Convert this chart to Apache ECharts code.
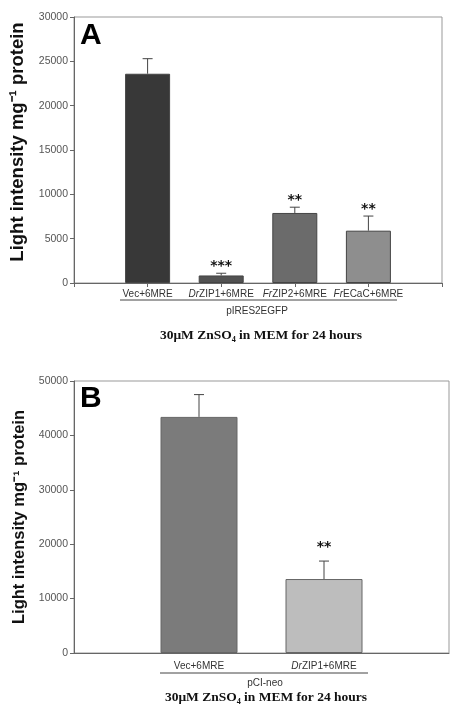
<!DOCTYPE html>
<html><head><meta charset="utf-8">
<script src="https://cdn.jsdelivr.net/npm/echarts@6/dist/echarts.min.js"></script>
<style>html,body{margin:0;padding:0;background:#fff}#c{width:452px;height:705px}</style>
</head><body><div id="c"></div>
<script>
// Panel A data
const catsA = ['Vec+6MRE', 'DrZIP1+6MRE', 'FrZIP2+6MRE', 'FrECaC+6MRE'];
const valsA = [23600, 850, 7900, 5900];
const errA = [1700, 250, 650, 1650];
const sigA = ['', '***', '**', '**'];
const colorsA = ['#383838', '#525252', '#6b6b6b', '#8e8e8e'];
const ticksA = [0, 5000, 10000, 15000, 20000, 25000, 30000];
// Panel B data
const catsB = ['Vec+6MRE', 'DrZIP1+6MRE'];
const valsB = [43400, 13600];
const errB = [4100, 3300];
const sigB = ['', '**'];
const colorsB = ['#7b7b7b', '#bdbdbd'];
const ticksB = [0, 10000, 20000, 30000, 40000, 50000];

const pad = a => [''].concat(a, ['']);
const padV = a => [null].concat(a, [null]);

function fmtCat(v) {
  if (v.startsWith('Dr')) return '{i|Dr}' + v.slice(2);
  if (v.startsWith('Fr')) return '{i|Fr}' + v.slice(2);
  return v;
}
const rich = { i: { fontStyle: 'italic', fontFamily: 'Liberation Sans', fontSize: 10, color: '#333' } };

function errSeries(xi, yi, vals, errs, sigs, starGap) {
  const data = vals.map((v, k) => [k + 1, v, v + errs[k], sigs[k]]);
  return {
    type: 'custom', xAxisIndex: xi, yAxisIndex: yi, z: 5,
    renderItem: function (params, api) {
      const x = api.value(0);
      const b = api.coord([x, api.value(1)]);
      const t = api.coord([x, api.value(2)]);
      const cw = 5;
      const children = [
        { type: 'line', shape: { x1: b[0], y1: b[1], x2: t[0], y2: t[1] }, style: { stroke: '#444', lineWidth: 1 } },
        { type: 'line', shape: { x1: t[0] - cw, y1: t[1], x2: t[0] + cw, y2: t[1] }, style: { stroke: '#444', lineWidth: 1 } }
      ];
      const s = data[params.dataIndex][3];
      if (s) children.push({ type: 'text', style: { text: s, x: t[0], y: t[1] - starGap, align: 'center', verticalAlign: 'middle', font: 'bold 14px "DejaVu Sans"', fill: '#111' } });
      return { type: 'group', children: children };
    },
    data: data
  };
}

function yAx(gi, ticks, name, nameSize, gap, shift) {
  return {
    gridIndex: gi, type: 'value', min: ticks[0], max: ticks[ticks.length - 1], interval: ticks[1] - ticks[0],
    name: name, nameLocation: 'middle', nameGap: gap, nameRotate: 90,
    nameTextStyle: { fontFamily: 'Liberation Sans', fontWeight: 'bold', fontSize: nameSize, color: '#111', padding: [0, 0, 0, shift] },
    axisLine: { show: true, lineStyle: { color: '#666' } },
    axisTick: { show: true, length: 4, lineStyle: { color: '#666' } },
    axisLabel: { fontFamily: 'Liberation Sans', fontSize: 10.5, color: '#555', margin: 6, formatter: v => String(v) },
    splitLine: { show: false }
  };
}

const chart = echarts.init(document.getElementById('c'), null, { renderer: 'canvas' });
chart.setOption({
  animation: false,
  backgroundColor: '#fff',
  grid: [
    { left: 74, top: 17, width: 368, height: 266, show: true, borderColor: '#999', borderWidth: 1 },
    { left: 74, top: 381, width: 378, height: 272, show: true, borderColor: '#999', borderWidth: 1 }
  ],
  xAxis: [
    {
      gridIndex: 0, type: 'category', boundaryGap: false, data: pad(catsA),
      axisLine: { lineStyle: { color: '#666' } },
      axisTick: { show: true, length: 4, lineStyle: { color: '#666' } },
      axisLabel: { interval: 0, fontFamily: 'Liberation Sans', fontSize: 10, color: '#333', margin: 6, formatter: fmtCat, rich: rich }
    },
    {
      gridIndex: 1, type: 'category', boundaryGap: false, data: pad(catsB),
      axisLine: { lineStyle: { color: '#666' } },
      axisTick: { show: false },
      axisLabel: { interval: 0, fontFamily: 'Liberation Sans', fontSize: 10, color: '#333', margin: 8, formatter: fmtCat, rich: rich }
    }
  ],
  yAxis: [
    yAx(0, ticksA, 'Light intensity mg\u207B\u00B9 protein', 18.5, 40, 16),
    yAx(1, ticksB, 'Light intensity mg\u207B\u00B9 protein', 16.5, 41, 0)
  ],
  series: [
    {
      type: 'bar', xAxisIndex: 0, yAxisIndex: 0, barWidth: 45,
      data: padV(valsA).map((v, k) => v === null ? null : { value: v, itemStyle: { color: colorsA[k - 1] } }),
      itemStyle: { borderColor: '#444', borderWidth: 1 }
    },
    errSeries(0, 0, valsA, errA, sigA, 7),
    {
      type: 'bar', xAxisIndex: 1, yAxisIndex: 1, barWidth: 77,
      data: padV(valsB).map((v, k) => v === null ? null : { value: v, itemStyle: { color: colorsB[k - 1] } }),
      itemStyle: { borderColor: '#666', borderWidth: 1 }
    },
    errSeries(1, 1, valsB, errB, sigB, 14)
  ],
  graphic: [
    { type: 'text', left: 80, top: 21, style: { text: 'A', font: 'bold 30px "Liberation Sans"', fill: '#000' } },
    { type: 'text', left: 80, top: 384, style: { text: 'B', font: 'bold 30px "Liberation Sans"', fill: '#000' } },
    { type: 'line', shape: { x1: 120, y1: 300, x2: 397, y2: 300 }, style: { stroke: '#444', lineWidth: 1 } },
    { type: 'text', x: 257, y: 311, style: { text: 'pIRES2EGFP', align: 'center', verticalAlign: 'middle', font: '10px "Liberation Sans"', fill: '#333' } },
    { type: 'text', x: 261, y: 336, style: { text: '30\u03BCM ZnSO\u2084 in MEM for 24 hours', align: 'center', verticalAlign: 'middle', font: 'bold 13.5px "Liberation Serif"', fill: '#111' } },
    { type: 'line', shape: { x1: 160, y1: 673, x2: 368, y2: 673 }, style: { stroke: '#444', lineWidth: 1 } },
    { type: 'text', x: 265, y: 683, style: { text: 'pCI-neo', align: 'center', verticalAlign: 'middle', font: '10px "Liberation Sans"', fill: '#333' } },
    { type: 'text', x: 266, y: 698, style: { text: '30\u03BCM ZnSO\u2084 in MEM for 24 hours', align: 'center', verticalAlign: 'middle', font: 'bold 13.5px "Liberation Serif"', fill: '#111' } }
  ]
});
</script>
</body></html>
